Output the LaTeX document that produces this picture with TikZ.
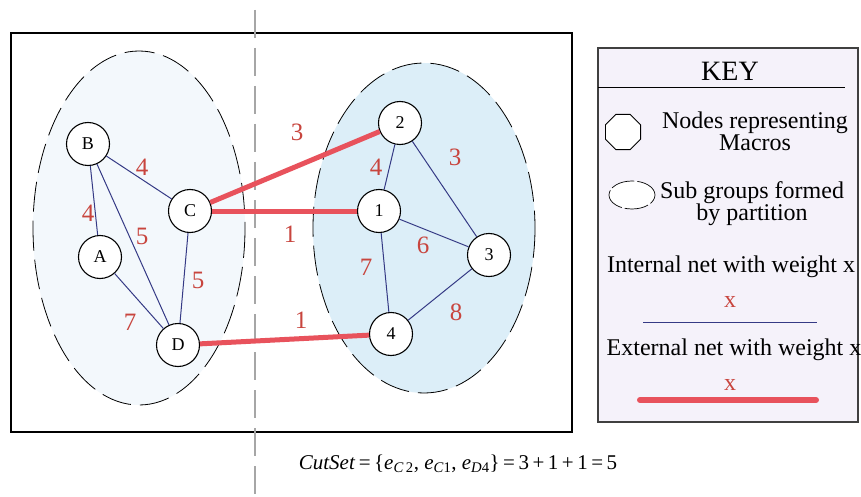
\documentclass[tikz,border=0pt]{standalone}
\usepackage{fontspec}
\setmainfont{Liberation Serif}
\usetikzlibrary{shapes.geometric}
\definecolor{navy}{HTML}{353A85}
\definecolor{netred}{HTML}{E8525C}
\definecolor{lblred}{HTML}{C8453E}
\definecolor{lightblue}{HTML}{DCEEF8}
\definecolor{paleblue}{HTML}{F3F8FC}
\definecolor{keyfill}{HTML}{F5F2FA}
\begin{document}
\begin{tikzpicture}[x=1pt,y=-1pt,
  macro/.style={circle,draw,line width=1.1pt,fill=white,minimum size=43pt,inner sep=0pt,font=\fontsize{18}{18}\selectfont},
  inet/.style={draw=navy,line width=1pt},
  enet/.style={draw=netred,line width=5pt},
  wt/.style={text=lblred,font=\fontsize{25}{25}\selectfont,inner sep=0pt},
  grp/.style={draw,dash pattern=on 30pt off 9pt,line width=0.8pt},
  keytxt/.style={font=\fontsize{24}{22}\selectfont,align=center,inner sep=0pt}]
\useasboundingbox (0,0) rectangle (861,497);
\fill[white] (0,0) rectangle (861,497);
% main frame
\draw[line width=1.3pt] (11,33) rectangle (572,432);
% partition line
\draw[gray!70,line width=1.2pt,dash pattern=on 28pt off 10pt] (255,10) -- (255,497);
% groups
\draw[grp,fill=paleblue] (139,228) ellipse [x radius=106, y radius=177];
\draw[grp,fill=lightblue] (424,228) ellipse [x radius=111, y radius=165];
% nodes
\node[macro] (B) at (88,144) {B};
\node[macro] (C) at (190,211) {C};
\node[macro] (A) at (100,257) {A};
\node[macro] (D) at (178,345) {D};
\node[macro] (n2) at (400,123) {2};
\node[macro] (n1) at (379,211) {1};
\node[macro] (n3) at (489,255) {3};
\node[macro] (n4) at (391,334) {4};
% internal nets
\draw[inet] (B) -- (C);
\draw[inet] (B) -- (A);
\draw[inet] (B) -- (D);
\draw[inet] (C) -- (D);
\draw[inet] (A) -- (D);
\draw[inet] (n2) -- (n1);
\draw[inet] (n2) -- (n3);
\draw[inet] (n1) -- (n3);
\draw[inet] (n1) -- (n4);
\draw[inet] (n3) -- (n4);
% external nets
\draw[enet] (C) -- (n2);
\draw[enet] (C) -- (n1);
\draw[enet] (D) -- (n4);
% weights
\node[wt] (wBC) at (142,167) {4};
\node[wt] (wBA) at (88,213) {4};
\node[wt] (wBD) at (142,236) {5};
\node[wt] (wCD) at (198,280) {5};
\node[wt] (wAD) at (130,322) {7};
\node[wt] (wC2) at (297,132) {3};
\node[wt] (wC1) at (290,234) {1};
\node[wt] (wD4) at (301,320) {1};
\node[wt] (w21) at (376,167) {4};
\node[wt] (w23) at (455,157) {3};
\node[wt] (w13) at (423,245) {6};
\node[wt] (w14) at (366,267) {7};
\node[wt] (w34) at (456,312) {8};
% key
\draw[line width=1.2pt,draw=black!75,fill=keyfill] (598,48) rectangle (858,422);
\node[keytxt,font=\fontsize{28}{28}\selectfont] (key) at (730,71) {KEY};
\draw[line width=1pt] (598,88) -- (845,88);
\node[regular polygon,regular polygon sides=8,draw,line width=0.9pt,fill=white,minimum size=38pt,inner sep=0pt] (oct) at (623,132) {};
\node[keytxt] (tnodes) at (755,131) {Nodes representing\\Macros};
\node[ellipse,draw,line width=0.7pt,dash pattern=on 24pt off 3pt,fill=white,minimum width=46pt,minimum height=28pt,inner sep=0pt] (ell) at (632,195) {};
\node[keytxt] (tsub) at (752,204) {Sub groups formed\\by partition};
\node[keytxt] (tint) at (731,267) {Internal net with weight x};
\node[keytxt,text=lblred] (xint) at (730,302) {x};
\coordinate (i1) at (643,322);
\coordinate (i2) at (817,322);
\draw[inet] (i1) -- (i2);
\node[keytxt] (text) at (734,350) {External net with weight x};
\node[keytxt,text=lblred] (xext) at (730,385) {x};
\coordinate (e1) at (640,400);
\coordinate (e2) at (816,400);
\draw[enet,line width=6pt,line cap=round] (e1) -- (e2);
% cut set
\node[font=\fontsize{21}{21}\selectfont,inner sep=0pt] (cut) at (458,464)
  {\textit{CutSet}\,=\,\{\textit{e}\textsubscript{\textit{C}\,2}, \textit{e}\textsubscript{\textit{C}1}, \textit{e}\textsubscript{\textit{D}4}\}\,=\,3\,+\,1\,+\,1\,=\,5};
\end{tikzpicture}
\end{document}
